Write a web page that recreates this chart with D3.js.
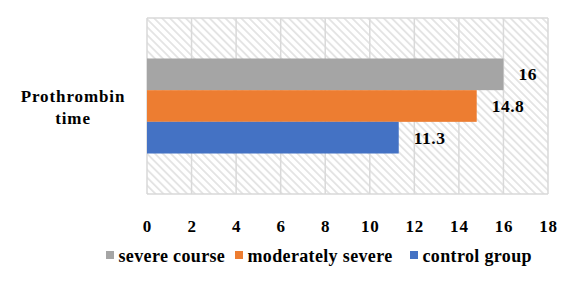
<!DOCTYPE html>
<html>
<head>
<meta charset="utf-8">
<script src="https://cdn.jsdelivr.net/npm/d3@7"></script>
<style>
  body { margin: 0; background: #fff; }
</style>
</head>
<body>
<svg width="583" height="283" font-family="Liberation Serif" font-weight="bold"></svg>
<script>
const categories = ['Prothrombin time'];
const seriesNames = ['severe course', 'moderately severe', 'control group'];
const seriesValues = [16, 14.8, 11.3];
const seriesColours = ['#A5A5A5', '#ED7D31', '#4472C4'];
const xTicks = [0, 2, 4, 6, 8, 10, 12, 14, 16, 18];

const FONT = 'Liberation Serif';
const svg = d3.select('svg');

const PLOT_LEFT = 147;
const PLOT_RIGHT = 548;
const PLOT_TOP = 18;
const PLOT_BOTTOM = 194;

const X_SCALE = d3.scaleLinear().domain([0, 18]).range([PLOT_LEFT, PLOT_RIGHT]);

const Y_SCALE = d3.scaleBand()
    .domain(categories)
    .range([PLOT_TOP, PLOT_BOTTOM])
    .paddingInner(0)
    .paddingOuter(0.426);

const SERIES_SCALE = d3.scaleBand()
    .domain(seriesNames)
    .range([0, Y_SCALE.bandwidth()]);

// hatch pattern for plot background
const defs = svg.append('defs');
defs.append('pattern')
    .attr('id', 'hatch')
    .attr('patternUnits', 'userSpaceOnUse')
    .attr('width', 5.6)
    .attr('height', 5.6)
    .attr('patternTransform', 'rotate(-45)')
    .append('rect')
    .attr('x', 0)
    .attr('y', 0)
    .attr('width', 1.8)
    .attr('height', 5.6)
    .attr('fill', '#e3e3e3');

svg.append('rect')
    .attr('x', PLOT_LEFT)
    .attr('y', PLOT_TOP)
    .attr('width', PLOT_RIGHT - PLOT_LEFT)
    .attr('height', PLOT_BOTTOM - PLOT_TOP)
    .attr('fill', 'url(#hatch)');

// gridlines
svg.append('g')
    .selectAll('line')
    .data(xTicks)
    .join('line')
    .attr('x1', d => X_SCALE(d))
    .attr('x2', d => X_SCALE(d))
    .attr('y1', PLOT_TOP)
    .attr('y2', PLOT_BOTTOM)
    .attr('stroke', '#d9d9d9')
    .attr('stroke-width', 1.5);

svg.append('g')
    .selectAll('line')
    .data([PLOT_TOP, PLOT_BOTTOM])
    .join('line')
    .attr('x1', PLOT_LEFT)
    .attr('x2', PLOT_RIGHT)
    .attr('y1', d => d)
    .attr('y2', d => d)
    .attr('stroke', '#d9d9d9')
    .attr('stroke-width', 1.5);

// bars
const barData = seriesNames.map((name, i) => ({ name, value: seriesValues[i], colour: seriesColours[i] }));

svg.append('g')
    .selectAll('rect')
    .data(barData)
    .join('rect')
    .attr('x', X_SCALE(0))
    .attr('y', d => Y_SCALE(categories[0]) + SERIES_SCALE(d.name))
    .attr('width', d => X_SCALE(d.value) - X_SCALE(0))
    .attr('height', SERIES_SCALE.bandwidth())
    .attr('fill', d => d.colour);

svg.append('g')
    .selectAll('text')
    .data(barData)
    .join('text')
    .text(d => d.value)
    .attr('x', d => X_SCALE(d.value) + 15)
    .attr('y', d => Y_SCALE(categories[0]) + SERIES_SCALE(d.name) + SERIES_SCALE.bandwidth() / 2 + 6)
    .attr('font-family', FONT)
    .attr('font-weight', 'bold')
    .attr('font-size', 17.5)
    .attr('letter-spacing', 0.5)
    .attr('fill', '#000');

// category label
const catLabel = svg.append('text')
    .attr('text-anchor', 'middle')
    .attr('font-family', FONT)
    .attr('font-weight', 'bold')
    .attr('font-size', 17)
    .attr('letter-spacing', 0.9)
    .attr('fill', '#000');
catLabel.append('tspan').attr('x', 73).attr('y', 101.5).text('Prothrombin');
catLabel.append('tspan').attr('x', 73).attr('y', 123.5).text('time');

// x axis
const xAxis = d3.axisBottom(X_SCALE).tickValues(xTicks).tickSize(0).tickPadding(0);
const axisG = svg.append('g')
    .attr('transform', `translate(0, 219.5)`)
    .call(xAxis)
    .attr('font-family', FONT)
    .attr('font-size', 17)
    .attr('font-weight', 'bold');
axisG.select('.domain').remove();
axisG.selectAll('text')
    .attr('font-family', FONT)
    .attr('font-weight', 'bold')
    .attr('letter-spacing', 0.8)
    .attr('fill', '#000');

// legend
const legendX = [106, 235, 410];
const legend = svg.append('g')
    .selectAll('g')
    .data(barData)
    .join('g')
    .attr('transform', (d, i) => `translate(${legendX[i]}, 251)`);
legend.append('rect')
    .attr('width', 8)
    .attr('height', 8)
    .attr('fill', d => d.colour);
legend.append('text')
    .text(d => d.name)
    .attr('x', 12.5)
    .attr('y', 11)
    .attr('font-family', FONT)
    .attr('font-weight', 'bold')
    .attr('font-size', 18)
    .attr('letter-spacing', 0.35)
    .attr('fill', '#000');
</script>
</body>
</html>
